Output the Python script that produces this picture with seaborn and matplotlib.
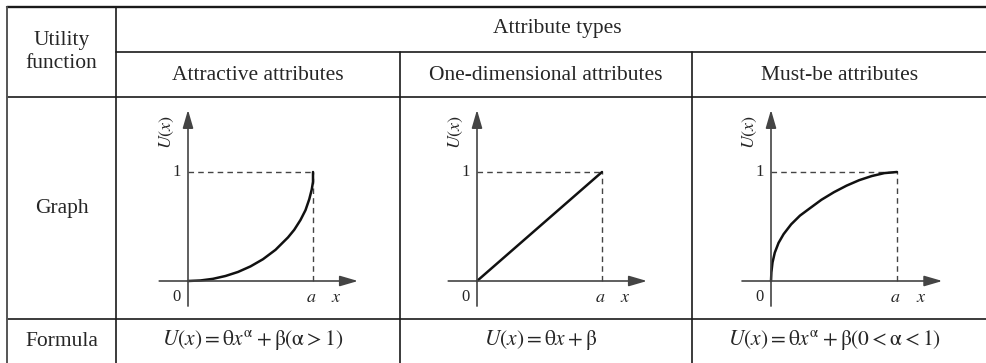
import matplotlib
matplotlib.use("Agg")
import matplotlib.pyplot as plt
import seaborn as sns
import pandas as pd

sns.set_theme(style="white")
plt.rcParams['font.family'] = ['Liberation Serif', 'DejaVu Serif']
plt.rcParams['mathtext.fontset'] = 'stix'

# table text
row_header = "Utility\nfunction"
group_header = "Attribute types"
col_headers = ["Attractive attributes", "One-dimensional attributes", "Must-be attributes"]
row_labels = ["Graph", "Formula"]
formulas = [r"$U\left(x\right)=\mathrm{θ}x^{\mathrm{α}}+\mathrm{β}\left(\mathrm{α}>1\right)$",
            r"$U\left(x\right)=\mathrm{θ}x+\mathrm{β}$",
            r"$U\left(x\right)=\mathrm{θ}x^{\mathrm{α}}+\mathrm{β}\left(0<\mathrm{α}<1\right)$"]

# curves (x in units of a, U(x) in units of 1)
attractive_x = [0, 0.1, 0.2, 0.3, 0.4, 0.5, 0.6, 0.7, 0.8, 0.85, 0.9, 0.94, 0.97, 0.99, 1.0, 1.0]
attractive_y = [0, 0.005, 0.02, 0.046, 0.083, 0.134, 0.2, 0.286, 0.4, 0.47, 0.56, 0.65, 0.75, 0.84, 0.91, 1.0]
one_dim_x = [0, 1.0]
one_dim_y = [0, 1.0]
must_be_x = [0, 0.003, 0.012, 0.03, 0.06, 0.1, 0.16, 0.23, 0.3, 0.4, 0.5, 0.6, 0.7, 0.8, 0.9, 1.0]
must_be_y = [0, 0.08, 0.17, 0.26, 0.35, 0.43, 0.52, 0.6, 0.66, 0.745, 0.815, 0.875, 0.925, 0.963, 0.99, 1.0]

curves = [(attractive_x, attractive_y), (one_dim_x, one_dim_y), (must_be_x, must_be_y)]

W, H = 987, 363
fig = plt.figure(figsize=(W / 100, H / 100), dpi=100)
bg = fig.add_axes([0, 0, 1, 1])
bg.set_xlim(0, W)
bg.set_ylim(H, 0)
bg.axis('off')

# grid lines of the table (pixel layout)
col_x = [7, 116, 400, 692, W]
line_c = '#1a1a1a'
bg.plot([7, W], [7, 7], color=line_c, lw=1.7)
bg.plot([116, W], [52, 52], color=line_c, lw=1.2)
bg.plot([7, W], [97, 97], color=line_c, lw=1.2)
bg.plot([7, W], [319, 319], color=line_c, lw=1.2)
bg.plot([7, 7], [7, H], color='#555555', lw=1.4)
bg.plot([116, 116], [7, H], color=line_c, lw=1.2)
bg.plot([400, 400], [52, H], color=line_c, lw=1.2)
bg.plot([692, 692], [52, H], color=line_c, lw=1.2)

fs = 15.5
bg.text(61.5, 52, row_header, ha='center', va='center', fontsize=fs, linespacing=1.25)
bg.text(557, 29, group_header, ha='center', va='center', fontsize=fs)
for i, t in enumerate(col_headers):
    bg.text((col_x[i + 1] + col_x[i + 2]) / 2, 75, t, ha='center', va='center', fontsize=fs)
bg.text(61.5, 208, row_labels[0], ha='center', va='center', fontsize=fs)
bg.text(61.5, 341, row_labels[1], ha='center', va='center', fontsize=fs)
for i, f in enumerate(formulas):
    bg.text((col_x[i + 1] + col_x[i + 2]) / 2 - 5, 340, f, ha='center', va='center', fontsize=15.5)

# graphs: origin pixel and pixel length of a / of 1
origins = [(188, 281), (477, 281), (771, 281)]
unit_x = [125, 125, 126]
unit_y = 109
ax_c = '#444444'
for i, (ox, oy) in enumerate(origins):
    left, right = col_x[i + 1] + 4, col_x[i + 2] - 4
    top, bottom = 100, 316
    ax = fig.add_axes([left / W, 1 - bottom / H, (right - left) / W, (bottom - top) / H])
    ax.set_xlim((left - ox) / unit_x[i], (right - ox) / unit_x[i])
    ax.set_ylim((oy - bottom) / unit_y, (oy - top) / unit_y)
    ax.patch.set_alpha(0)

    arrow = dict(arrowstyle='-|>,head_length=1.1,head_width=0.32', color=ax_c, lw=1.2,
                 mutation_scale=10, shrinkA=0, shrinkB=0)
    ax.annotate('', xy=(1.36, 0), xytext=(-0.23, 0), arrowprops=arrow)
    ax.annotate('', xy=(0, 1.57), xytext=(0, -0.23), arrowprops=arrow)

    ax.plot([0, 1], [1, 1], color=ax_c, lw=1.0, ls=(0, (4, 3)))
    ax.plot([1, 1], [0, 1], color=ax_c, lw=1.0, ls=(0, (4, 3)))

    cx, cy = curves[i]
    df = pd.DataFrame({'x': cx, 'U': cy})
    sns.lineplot(data=df, x='x', y='U', ax=ax, color='#111111', lw=1.8,
                 sort=False, estimator=None)
    ax.axis('off')

    ax.text(-0.06, 1.0, '1', ha='right', va='center', fontsize=12)
    ax.text(-0.09, -0.15, '0', ha='center', va='center', fontsize=12)
    ax.text(0.99, -0.15, r'$a$', ha='center', va='center', fontsize=13)
    ax.text(1.19, -0.15, r'$x$', ha='center', va='center', fontsize=13)
    ax.text(-0.17, 1.37, r'$U(x)$', ha='center', va='center', fontsize=13, rotation=90)

fig.savefig('out.png', dpi=100)
